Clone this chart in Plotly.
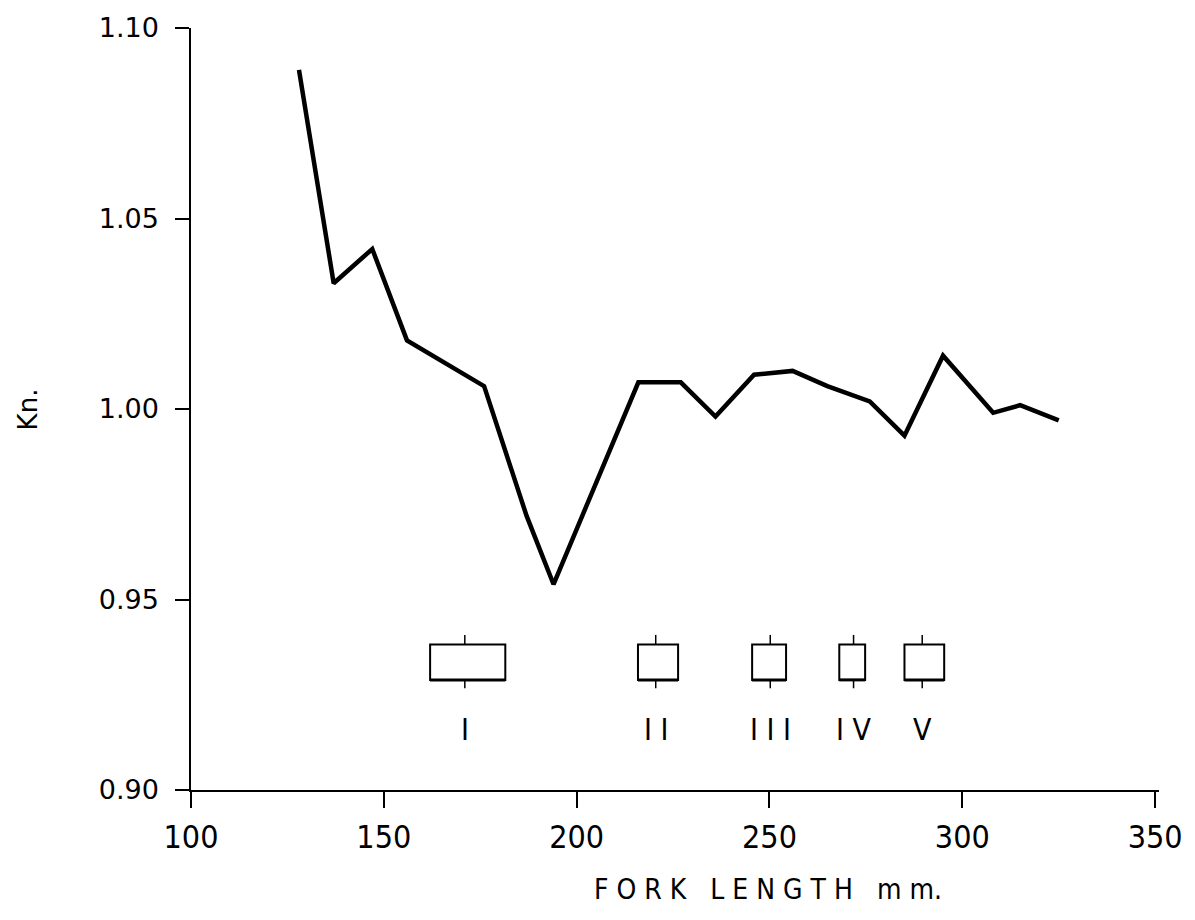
import plotly.graph_objects as go

# Condition factor (Kn) vs fork length
fork_length = [128, 137, 147, 156, 176, 187, 194, 216, 227, 236, 246, 256,
               265, 276, 285, 295, 308, 315, 325]
kn = [1.089, 1.033, 1.042, 1.018, 1.006, 0.972, 0.954, 1.007, 1.007, 0.998,
      1.009, 1.010, 1.006, 1.002, 0.993, 1.014, 0.999, 1.001, 0.997]

# Age classes: mean length and range
class_labels = ["I", "I I", "I I I", "I V", "V"]
class_mean = [171.0, 220.5, 250.2, 271.8, 289.6]
class_low = [162.0, 215.9, 245.5, 268.1, 285.0]
class_high = [181.5, 226.3, 254.3, 274.8, 295.3]

x_ticks = [100, 150, 200, 250, 300, 350]
y_ticks = [0.90, 0.95, 1.00, 1.05, 1.10]

BOX_LO, BOX_HI = 0.9289, 0.9382
STEM_LO, STEM_HI = 0.9267, 0.9407
LABEL_Y = 0.9158

FONT = "DejaVu Sans"
FONT_C = "DejaVu Sans Condensed, Liberation Sans Narrow, DejaVu Sans"
FONT_N = "Liberation Sans Narrow, DejaVu Sans Condensed, DejaVu Sans"

fig = go.Figure()
fig.add_trace(go.Scatter(x=fork_length, y=kn, mode="lines",
                         line=dict(color="black", width=4.5),
                         showlegend=False, hoverinfo="skip"))

shapes = []
annotations = []
for lab, m, lo, hi in zip(class_labels, class_mean, class_low, class_high):
    shapes.append(dict(type="rect", xref="x", yref="y", x0=lo, x1=hi,
                       y0=BOX_LO, y1=BOX_HI,
                       line=dict(color="black", width=2)))
    shapes.append(dict(type="line", xref="x", yref="y", x0=lo, x1=hi,
                       y0=BOX_LO, y1=BOX_LO, line=dict(color="black", width=3)))
    shapes.append(dict(type="line", xref="x", yref="y", x0=m, x1=m,
                       y0=BOX_HI, y1=STEM_HI, line=dict(color="black", width=1.5)))
    shapes.append(dict(type="line", xref="x", yref="y", x0=m, x1=m,
                       y0=STEM_LO, y1=BOX_LO, line=dict(color="black", width=1.5)))
    annotations.append(dict(x=m, y=LABEL_Y, xref="x", yref="y", text=lab,
                            showarrow=False,
                            font=dict(family=FONT_C, size=30, color="black")))

annotations.append(dict(x=249.5, y=-0.131, xref="x", yref="paper",
                        xanchor="center", yanchor="middle",
                        text="F O R K   L E N G T H   m m.", showarrow=False,
                        font=dict(family=FONT_C, size=28, color="black")))
annotations.append(dict(x=-0.168, y=1.00, xref="paper", yref="y",
                        xanchor="center", yanchor="middle",
                        text="Kn.", showarrow=False, textangle=-90,
                        font=dict(family=FONT, size=26, color="black")))

fig.update_layout(
    width=1195, height=920,
    margin=dict(l=191, r=36, t=28, b=130),
    paper_bgcolor="white", plot_bgcolor="white",
    shapes=shapes, annotations=annotations,
    showlegend=False,
)
fig.update_xaxes(range=[100, 351], tickvals=x_ticks,
                 ticktext=[str(v) for v in x_ticks],
                 showgrid=False, zeroline=False,
                 showline=True, linecolor="black", linewidth=2,
                 ticks="outside", ticklen=16, tickwidth=1.5, tickcolor="black",
                 ticklabelstandoff=2,
                 tickfont=dict(family=FONT_N, size=32, color="black"))
fig.update_yaxes(range=[0.90, 1.10], tickvals=y_ticks,
                 ticktext=["0.90", "0.95", "1.00", "1.05", "1.10"],
                 showgrid=False, zeroline=False,
                 showline=True, linecolor="black", linewidth=1.5,
                 ticks="outside", ticklen=14, tickwidth=1.5, tickcolor="black",
                 ticklabelstandoff=11,
                 tickfont=dict(family=FONT, size=27, color="black"))

fig.write_html("out.html")
